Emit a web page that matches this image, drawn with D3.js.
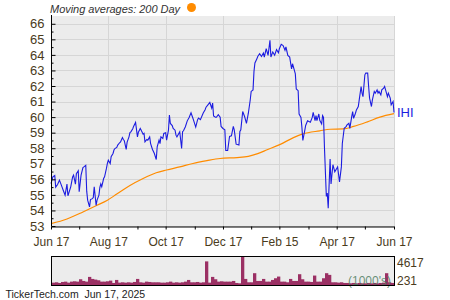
<!DOCTYPE html>
<html>
<head>
<meta charset="utf-8">
<script src="https://cdn.jsdelivr.net/npm/d3@7"></script>
<style>
  body { margin: 0; background: #fff; }
  text { font-family: "Liberation Sans", Arial, sans-serif; }
</style>
</head>
<body>
<script>
(function () {
  'use strict';

  // IHI closing prices
  const priceDates = [
    '2024-06-17','2024-06-19','2024-06-21','2024-06-22','2024-06-24','2024-06-26','2024-06-28','2024-06-30',
    '2024-07-02','2024-07-04','2024-07-05','2024-07-08','2024-07-10','2024-07-11','2024-07-13','2024-07-14',
    '2024-07-16','2024-07-17','2024-07-19','2024-07-21','2024-07-22','2024-07-24','2024-07-25','2024-07-26',
    '2024-07-28','2024-07-29','2024-07-31','2024-08-01','2024-08-02','2024-08-04','2024-08-05','2024-08-07',
    '2024-08-08','2024-08-09','2024-08-10','2024-08-12','2024-08-13','2024-08-15','2024-08-16','2024-08-17',
    '2024-08-19','2024-08-20','2024-08-22','2024-08-23','2024-08-24','2024-08-26','2024-08-27','2024-08-29',
    '2024-08-30','2024-09-01','2024-09-02','2024-09-03','2024-09-05','2024-09-06','2024-09-08','2024-09-09',
    '2024-09-10','2024-09-12','2024-09-13','2024-09-15','2024-09-17','2024-09-18','2024-09-20','2024-09-21',
    '2024-09-23','2024-09-24','2024-09-25','2024-09-27','2024-09-28','2024-09-30','2024-10-01','2024-10-03',
    '2024-10-05','2024-10-07','2024-10-08','2024-10-10','2024-10-11','2024-10-12','2024-10-14','2024-10-15',
    '2024-10-17','2024-10-18','2024-10-20','2024-10-21','2024-10-22','2024-10-24','2024-10-25','2024-10-27',
    '2024-10-28','2024-10-29','2024-10-31','2024-11-01','2024-11-03','2024-11-04','2024-11-05','2024-11-07',
    '2024-11-09','2024-11-11','2024-11-13','2024-11-15','2024-11-18','2024-11-20','2024-11-21','2024-11-23',
    '2024-11-26','2024-11-28','2024-11-29','2024-12-01','2024-12-03','2024-12-05','2024-12-06','2024-12-07',
    '2024-12-09','2024-12-10','2024-12-12','2024-12-14','2024-12-15','2024-12-17','2024-12-19','2024-12-20',
    '2024-12-22','2024-12-24','2024-12-26','2024-12-28','2024-12-29','2024-12-31','2025-01-03','2025-01-04',
    '2025-01-05','2025-01-07','2025-01-09','2025-01-11','2025-01-13','2025-01-15','2025-01-16','2025-01-18',
    '2025-01-19','2025-01-20','2025-01-22','2025-01-23','2025-01-25','2025-01-27','2025-01-29','2025-01-30',
    '2025-02-01','2025-02-03','2025-02-05','2025-02-06','2025-02-08','2025-02-10','2025-02-12','2025-02-14',
    '2025-02-15','2025-02-17','2025-02-19','2025-02-21','2025-02-22','2025-02-24','2025-02-26','2025-02-28',
    '2025-03-01','2025-03-03','2025-03-04','2025-03-05','2025-03-07','2025-03-08','2025-03-10','2025-03-11',
    '2025-03-12','2025-03-14','2025-03-15','2025-03-17','2025-03-20','2025-03-22','2025-03-23','2025-03-25',
    '2025-03-26','2025-03-27','2025-03-29','2025-03-30','2025-04-01','2025-04-02','2025-04-03','2025-04-04',
    '2025-04-06','2025-04-07','2025-04-08','2025-04-10','2025-04-11','2025-04-13','2025-04-15','2025-04-17',
    '2025-04-18','2025-04-20','2025-04-22','2025-04-23','2025-04-25','2025-04-27','2025-04-28','2025-04-30',
    '2025-05-01','2025-05-03','2025-05-04','2025-05-05','2025-05-07','2025-05-08','2025-05-10','2025-05-11',
    '2025-05-13','2025-05-14','2025-05-15','2025-05-17','2025-05-18','2025-05-20','2025-05-21','2025-05-22',
    '2025-05-24','2025-05-25','2025-05-27','2025-05-28','2025-05-30','2025-05-31','2025-06-01','2025-06-03',
    '2025-06-04','2025-06-06','2025-06-07','2025-06-09','2025-06-10','2025-06-11','2025-06-13','2025-06-14',
    '2025-06-16','2025-06-17'
  ];
  const priceValues = [
    55.73,56.16,56.25,55.50,55.67,55.95,55.63,55.30,
    54.98,55.70,54.94,55.52,56.16,56.27,55.69,56.37,
    56.55,55.20,56.27,56.76,56.80,56.90,55.24,54.66,
    54.23,54.70,54.76,54.83,55.52,54.33,54.66,54.98,
    55.48,55.70,55.52,56.05,56.16,56.70,57.02,57.23,
    57.02,57.45,57.66,57.88,57.98,58.05,58.20,58.35,
    58.41,58.69,58.56,58.48,57.92,58.39,58.73,59.00,
    59.05,59.25,59.42,59.66,58.73,59.03,59.27,59.16,
    58.90,58.95,58.41,58.56,58.52,58.73,58.30,57.92,
    57.66,57.27,58.09,58.52,58.30,58.73,58.63,58.95,
    59.00,58.52,59.16,60.13,59.59,59.46,59.27,59.16,
    58.84,58.73,58.95,59.06,57.98,59.06,59.12,59.38,
    59.76,59.98,60.28,59.93,59.36,59.84,59.94,59.84,
    60.26,60.47,60.64,60.79,60.94,60.58,60.90,60.08,
    59.99,59.99,60.15,59.99,59.40,59.27,59.18,57.85,
    57.85,58.76,58.80,59.40,59.18,58.26,58.20,59.08,
    59.18,60.36,60.04,59.60,60.25,61.10,61.65,61.75,
    62.94,63.48,63.73,63.90,64.07,63.90,64.12,63.86,
    64.40,63.97,64.94,63.86,64.19,63.98,64.34,64.13,
    64.40,64.68,64.60,64.30,64.51,63.97,63.86,63.10,
    63.43,63.00,62.78,61.81,61.70,60.20,59.98,59.34,
    58.50,59.13,59.46,59.77,59.67,59.98,60.30,59.77,
    60.10,59.77,60.20,59.80,59.56,60.10,59.98,58.05,
    54.90,55.12,54.15,57.30,55.70,56.94,56.48,56.70,
    56.80,55.84,56.80,58.30,59.28,59.39,59.50,59.60,
    59.28,60.03,60.35,59.92,60.25,60.46,60.68,61.11,
    61.97,61.54,61.32,62.72,62.83,62.83,61.97,61.22,
    60.68,61.11,61.65,61.54,61.75,61.54,61.65,61.43,
    61.75,61.86,61.97,61.54,61.32,61.54,61.22,60.79,
    61.00,60.30
  ];

  // 200 day moving average
  const maDates = [
    '2024-06-17','2024-07-04','2024-07-21','2024-08-05','2024-08-16','2024-08-26','2024-09-09',
    '2024-09-23','2024-10-07','2024-10-18','2024-11-01','2024-11-15','2024-11-30','2024-12-14',
    '2025-01-01','2025-01-13','2025-01-23','2025-02-02','2025-02-16','2025-03-02','2025-03-12',
    '2025-03-30','2025-04-10','2025-04-24','2025-05-05','2025-05-19','2025-06-02','2025-06-17'
  ];
  const maValues = [
    53.15,53.45,53.90,54.33,54.66,55.05,55.60,
    56.05,56.42,56.60,56.80,57.02,57.20,57.34,
    57.40,57.48,57.65,57.90,58.25,58.68,58.92,
    59.12,59.22,59.24,59.40,59.68,60.00,60.22
  ];

  // volume in 1000's, one bar per ~3 days
  const volumes = [
    389,445,334,500,556,389,556,612,556,946,668,556,1335,1001,890,779,
    556,556,612,723,334,834,389,445,389,445,389,500,1001,445,389,556,
    500,445,445,445,389,389,445,556,389,445,389,445,556,834,445,445,
    500,389,445,3894,389,1335,946,556,612,556,556,556,668,334,278,4617,
    1001,445,445,1947,668,668,1001,556,556,834,1113,1391,556,556,445,1001,
    668,668,1780,946,556,556,500,1557,556,556,1113,1947,1669,445,445,389,
    445,334,334,278,334,278,334,278,278,334,278,334,278,334,389,1947,
    445,334
  ];

  const yTicks = d3.range(53, 67);
  const xMajor = ['2024-06-17','2024-08-17','2024-10-17','2024-12-17','2025-02-15','2025-04-17','2025-06-17'];
  const xMinor = ['2024-07-17','2024-09-17','2024-11-17','2025-01-16','2025-03-18','2025-05-17'];
  const xLabels = ['Jun 17','Aug 17','Oct 17','Dec 17','Feb 15','Apr 17','Jun 17'];
  const volLabels = ['4617', '231'];

  const parse = d3.timeParse('%Y-%m-%d');
  const prices = priceDates.map((d, i) => [parse(d), priceValues[i]]);
  const ma = maDates.map((d, i) => [parse(d), maValues[i]]);

  const W = 450, H = 300;
  const plot = { left: 51, right: 394, top: 16, bottom: 226 };
  const vol = { top: 256, bottom: 285 };
  const textCol = '#4a3b1c';

  const svg = d3.select('body').append('svg')
    .attr('width', W)
    .attr('height', H);

  const x = d3.scaleTime()
    .domain([parse(xMajor[0]), parse(xMajor[xMajor.length - 1])])
    .range([plot.left, plot.right]);

  const y = d3.scaleLinear()
    .domain([53, 66.5])
    .range([plot.bottom, plot.top]);

  // plot background
  svg.append('rect')
    .attr('x', plot.left).attr('y', plot.top)
    .attr('width', plot.right - plot.left)
    .attr('height', plot.bottom - plot.top)
    .attr('fill', '#ececec');

  // gridlines
  svg.append('g').selectAll('line.h')
    .data(yTicks)
    .enter().append('line')
    .attr('x1', plot.left).attr('x2', plot.right)
    .attr('y1', d => Math.round(y(d)) + 0.5).attr('y2', d => Math.round(y(d)) + 0.5)
    .attr('stroke', '#d6d6d6');

  svg.append('g').selectAll('line.v')
    .data(xMajor.slice(1))
    .enter().append('line')
    .attr('x1', d => Math.round(x(parse(d))) + 0.5).attr('x2', d => Math.round(x(parse(d))) + 0.5)
    .attr('y1', plot.top).attr('y2', plot.bottom)
    .attr('stroke', '#d6d6d6');

  // moving average + price
  const line = d3.line()
    .x(d => x(d[0]))
    .y(d => y(d[1]));

  svg.append('path')
    .attr('d', line.curve(d3.curveMonotoneX)(ma))
    .attr('fill', 'none')
    .attr('stroke', '#ff8c00')
    .attr('stroke-width', 1.2);

  svg.append('path')
    .attr('d', line.curve(d3.curveLinear)(prices))
    .attr('fill', 'none')
    .attr('stroke', '#1c1ce0')
    .attr('stroke-width', 1.1);

  // y axis
  const yAxis = d3.axisLeft(y)
    .tickValues(yTicks)
    .tickSizeInner(-4)
    .tickSizeOuter(0)
    .tickPadding(7)
    .tickFormat(d3.format('d'));

  const gy = svg.append('g')
    .attr('transform', `translate(${plot.left + 0.5},0)`)
    .call(yAxis);
  gy.select('.domain').attr('d', `M0,${plot.top - 1}V${plot.bottom}`);
  gy.attr('font-family', null);
  gy.selectAll('text').attr('fill', textCol).attr('font-size', 13);

  svg.append('g')
    .attr('transform', `translate(${plot.left + 0.5},0)`)
    .call(d3.axisLeft(y).tickValues(yTicks.slice(0, -1).map(d => d + 0.5)).tickSizeInner(-2).tickSizeOuter(0).tickFormat(''))
    .select('.domain').remove();

  // x axis
  const xAxis = d3.axisBottom(x)
    .tickValues(xMajor.map(parse))
    .tickSizeInner(3)
    .tickSizeOuter(0)
    .tickPadding(8)
    .tickFormat((d, i) => xLabels[i]);

  const gx = svg.append('g')
    .attr('transform', `translate(0,${plot.bottom + 0.5})`)
    .call(xAxis);
  gx.attr('font-family', null);
  gx.selectAll('text').attr('fill', textCol).attr('font-size', 12);

  svg.append('g')
    .attr('transform', `translate(0,${plot.bottom + 0.5})`)
    .call(d3.axisBottom(x).tickValues(xMinor.map(parse)).tickSizeInner(3).tickSizeOuter(0).tickFormat(''))
    .select('.domain').remove();

  // ticker label at last price
  svg.append('text')
    .attr('x', plot.right + 3)
    .attr('y', y(priceValues[priceValues.length - 1]) + 5)
    .attr('fill', '#1c1ce0')
    .attr('font-size', 13)
    .text('IHI');

  // legend / title
  svg.append('text')
    .attr('x', 50).attr('y', 12.5)
    .attr('font-size', 11)
    .attr('font-style', 'italic')
    .attr('fill', '#333')
    .attr('textLength', 130)
    .text('Moving averages: 200 Day');

  svg.append('circle')
    .attr('cx', 191.5).attr('cy', 7.5).attr('r', 4.5)
    .attr('fill', '#ff8c00');

  // volume panel
  const xv = d3.scaleBand()
    .domain(d3.range(volumes.length))
    .range([plot.left + 1, plot.right])
    .padding(0);

  const yv = d3.scaleLinear()
    .domain([0, d3.max(volumes)])
    .range([vol.bottom, vol.top + 1]);

  svg.append('rect')
    .attr('x', plot.left + 0.5).attr('y', vol.top + 0.5)
    .attr('width', plot.right - plot.left)
    .attr('height', vol.bottom - vol.top)
    .attr('fill', '#ececec');

  svg.append('g').selectAll('rect')
    .data(volumes)
    .enter().append('rect')
    .attr('x', (d, i) => xv(i))
    .attr('width', xv.bandwidth() + 0.3)
    .attr('y', d => yv(d))
    .attr('height', d => vol.bottom - yv(d))
    .attr('fill', '#9b3064');

  svg.append('text')
    .attr('x', 348).attr('y', 285)
    .attr('font-size', 12)
    .attr('fill', '#4e7d62')
    .attr('fill-opacity', 0.85)
    .text("(1000's)");

  svg.append('rect')
    .attr('x', plot.left + 0.5).attr('y', vol.top + 0.5)
    .attr('width', plot.right - plot.left)
    .attr('height', vol.bottom - vol.top)
    .attr('fill', 'none')
    .attr('stroke', '#000');

  svg.append('g').selectAll('text')
    .data(volLabels)
    .enter().append('text')
    .attr('x', plot.right + 3)
    .attr('y', (d, i) => i === 0 ? 267 : 285)
    .attr('font-size', 12)
    .attr('fill', textCol)
    .text(d => d);

  // footer
  svg.append('text')
    .attr('x', 5.5).attr('y', 297.5)
    .attr('font-size', 10.5)
    .attr('fill', '#222')
    .style('white-space', 'pre')
    .text('TickerTech.com  Jun 17, 2025');

})();
</script>
</body>
</html>
